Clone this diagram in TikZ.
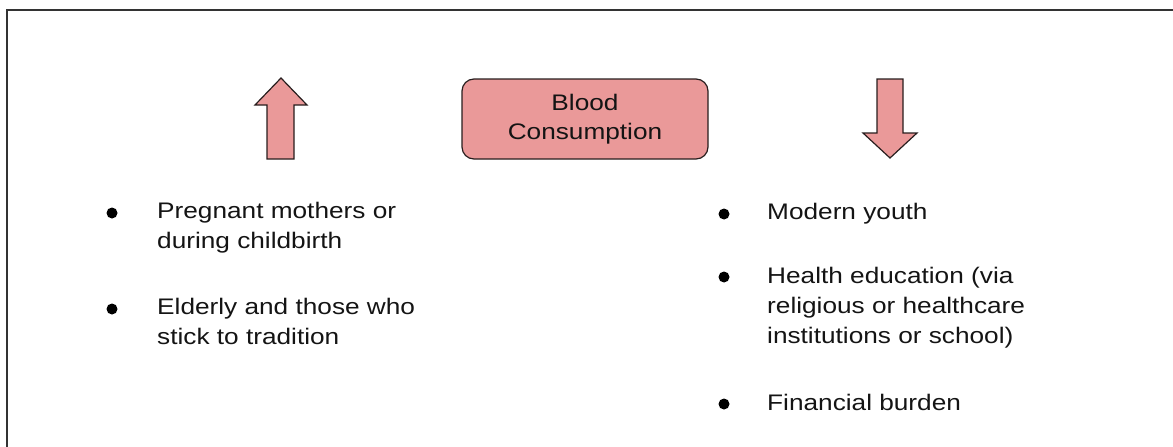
\documentclass[tikz,border=0pt]{standalone}
\usepackage{fontspec}
\setmainfont{Liberation Sans}[FakeStretch=1.165]
\usepackage{tikz}
\usetikzlibrary{positioning}
\usepackage{xcolor}
\definecolor{bcpink}{RGB}{234,153,153}
\definecolor{bcline}{RGB}{40,30,30}
\definecolor{bctext}{RGB}{20,20,20}
\tikzstyle{trendarrow} = [line width=1.2pt, draw=bcline, fill=bcpink, line join=miter]
\tikzstyle{topicbox} = [draw=bcline, line width=1.2pt, fill=bcpink, rounded corners=12pt, minimum width=246pt, minimum height=80pt, align=center, inner sep=0pt]
\tikzstyle{item} = [anchor=base west, align=left, inner sep=0pt, text=bctext]
\tikzstyle{dot} = [circle, fill=black, inner sep=0pt, minimum size=11pt]

\begin{document}
\begin{tikzpicture}[x=1pt, y=-1pt, font=\fontsize{22.5}{30}\selectfont]
\useasboundingbox (0,0) rectangle (1173,447);
% frame
\draw[line width=2.5pt, black!80] (7,447) -- (7,10) -- (1173,10);

% middle box
\node[topicbox, text=bctext] (blood) at (585,119) {\raisebox{-3pt}{\begin{tabular}{@{}c@{}}Blood\\[-1.5pt]Consumption\end{tabular}}};

% up and down arrows
\draw[trendarrow] (281,78) -- (307,105) -- (294,105) -- (294,159) -- (267,159) -- (267,105) -- (255,105) -- cycle;
\draw[trendarrow] (877,79) -- (903,79) -- (903,133) -- (917,133) -- (890,158) -- (863,133) -- (877,133) -- cycle;

% left list (base = last line)
\node[dot] (ldot1) at (112,213) {};
\node[item] (lup1) at (157,248) {Pregnant mothers or\\during childbirth};
\node[dot] (ldot2) at (112,309) {};
\node[item] (lup2) at (157,344) {Elderly and those who\\stick to tradition};

% right list
\node[dot] (rdot1) at (724,214) {};
\node[item] (rdown1) at (767,219) {Modern youth};
\node[dot] (rdot2) at (724,277) {};
\node[item] (rdown2) at (767,343) {Health education (via\\religious or healthcare\\institutions or school)};
\node[dot] (rdot3) at (724,404) {};
\node[item] (rdown3) at (767,410) {Financial burden};
\end{tikzpicture}
\end{document}
